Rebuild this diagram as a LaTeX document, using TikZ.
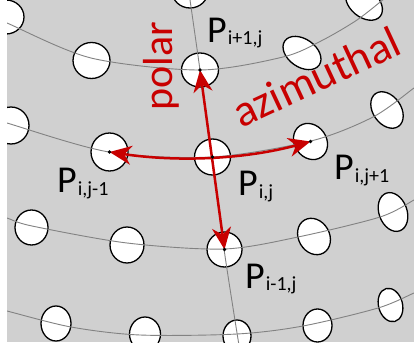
\documentclass[tikz,border=0pt]{standalone}
\usepackage{fontspec}
\setmainfont{Carlito}
\usetikzlibrary{shapes.geometric,arrows.meta}
\definecolor{bgray}{RGB}{208,208,208}
\definecolor{arrred}{RGB}{200,0,0}
\definecolor{gridgray}{RGB}{130,130,130}
\newcommand\psub[1]{\raisebox{-2pt}{\fontsize{20}{20}\selectfont #1}}
\begin{document}
\begin{tikzpicture}[x=1pt,y=-1pt,
  ell/.style={ellipse, draw=black, line width=1.3pt, fill=white, inner sep=0pt, outer sep=0pt},
  gridline/.style={draw=gridgray, line width=0.9pt},
  arr/.style={draw=arrred, line width=2.5pt,
    {Stealth[length=22pt,width=19pt,inset=7pt]}-{Stealth[length=22pt,width=19pt,inset=7pt]}},
  plab/.style={font=\fontsize{38}{38}\selectfont, inner sep=0pt, anchor=base west},
  rlab/.style={text=arrred, font=\fontsize{42}{42}\selectfont, inner sep=0pt},
  dotc/.style={fill=black}]
\fill[white] (0,0) rectangle (414,347);
\useasboundingbox (0,0) rectangle (414,347);
\begin{scope}
\clip (7,0) rectangle (414,342);
\fill[bgray] (7,0) rectangle (414,342);
% ellipses, row 1
\node[ell, minimum width=36pt, minimum height=34pt] (e1) at (6,17) {};
\node[ell, minimum width=37pt, minimum height=36pt] (e2) at (91.5,60.5) {};
\node[ell, minimum width=37pt, minimum height=34pt] (pu) at (200,70) {};
\node[ell, minimum width=42pt, minimum height=28pt, rotate=-35] (e4) at (302,53) {};
\node[ell, minimum width=42pt, minimum height=28pt, rotate=-40] (e5) at (364,3) {};
\node[ell, minimum width=36pt, minimum height=34pt] (e6) at (190,-9) {};
% row 2
\node[ell, minimum width=36pt, minimum height=37pt] (e7) at (11,125.5) {};
\node[ell, minimum width=37pt, minimum height=38pt] (pl) at (109.5,152) {};
\node[ell, minimum width=36pt, minimum height=36pt] (pij) at (212.5,157) {};
\node[ell, minimum width=38pt, minimum height=32pt, rotate=-55] (pr) at (310.5,141.5) {};
\node[ell, minimum width=40pt, minimum height=28pt, rotate=-55] (e11) at (387,110) {};
% row 3
\node[ell, minimum width=33pt, minimum height=35pt] (e12) at (31.5,227.5) {};
\node[ell, minimum width=34pt, minimum height=36pt] (e13) at (127,245) {};
\node[ell, minimum width=35pt, minimum height=35pt] (pd) at (224.5,249.5) {};
\node[ell, minimum width=38pt, minimum height=31pt, rotate=-60] (e15) at (314,236.5) {};
\node[ell, minimum width=40pt, minimum height=28pt, rotate=-70] (e16) at (393,212) {};
% row 4
\node[ell, minimum width=30pt, minimum height=35pt] (e17) at (56,323.5) {};
\node[ell, minimum width=31pt, minimum height=34pt] (e18) at (145,334) {};
\node[ell, minimum width=28pt, minimum height=32pt] (e19) at (237,336) {};
\node[ell, minimum width=29pt, minimum height=33pt] (e20) at (317.5,325.5) {};
\node[ell, minimum width=34pt, minimum height=24pt, rotate=-75] (e21) at (390.5,305) {};
% grid lines
\draw[gridline] plot[smooth] coordinates {(-5,18) (7,23) (91,58) (200,70) (283,57) (321,41) (357,20) (385,-2)};
\draw[gridline] plot[smooth] coordinates {(-5,119) (7,123) (109,152) (212,157) (311,141) (373,117) (414,88) (425,80)};
\draw[gridline] plot[smooth] coordinates {(-5,215) (7,218) (32,226) (127,243) (224,249) (298,237) (380,217) (414,200) (425,194)};
\draw[gridline] plot[smooth] coordinates {(-5,308) (7,311) (71,327) (140,335) (237,334) (303,326) (378,308) (414,293) (425,288)};
\draw[gridline] plot[smooth] coordinates {(189.3,-5) (200,70) (212,157) (224,249) (237,333) (240,350)};
\end{scope}
% arrows
\draw[arr] (pu.center) -- (pd.center);
\draw[arr] (pl.center) .. controls +(69,10.3) and +(-65,17.7) .. (pr.center);
% dots
\foreach \n in {pu,pl,pij,pr,pd} \fill[dotc] (\n.center) circle (1.8pt);
% labels
\node[plab] (lpu) at (207,43) {P\kern1pt\psub{i+1,j}};
\node[plab] (lpl) at (57,193) {P\kern1pt\psub{i,j-1}};
\node[plab] (lpij) at (238,196) {P\kern1pt\psub{i,j}};
\node[plab] (lpr) at (334,180) {P\kern1pt\psub{i,j+1}};
\node[plab] (lpd) at (245,288) {P\kern1pt\psub{i-1,j}};
\node[rlab, rotate=90, anchor=base] (polar) at (172,66) {polar};
\node[rlab, font=\fontsize{45}{45}\selectfont, rotate=25, anchor=base west] (azim) at (241,129) {azimuthal};
\end{tikzpicture}
\end{document}
